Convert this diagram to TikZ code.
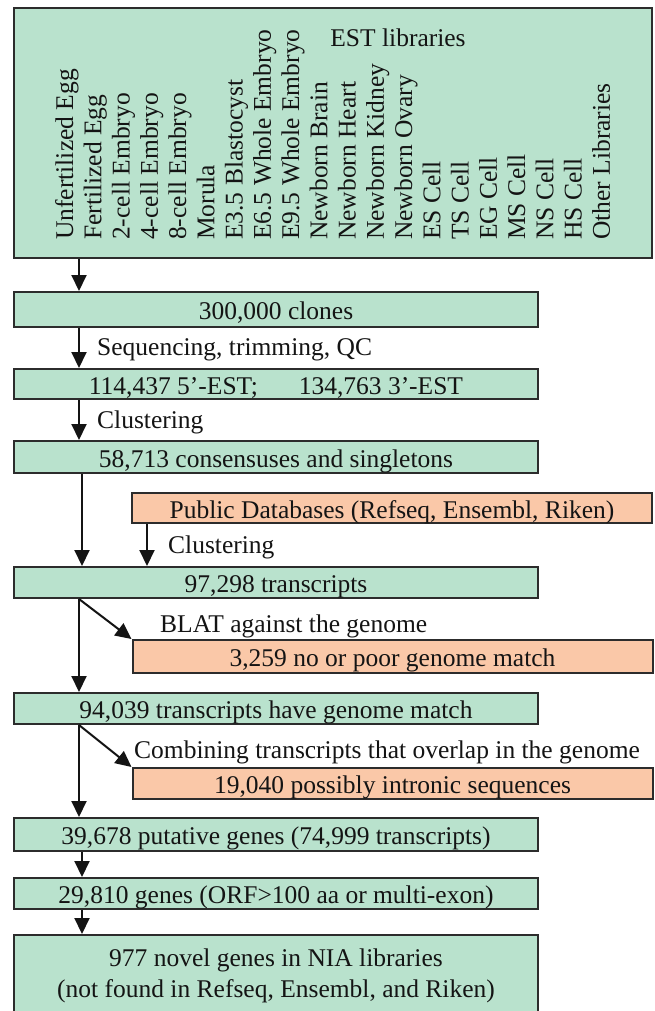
\documentclass[tikz,border=0pt]{standalone}
\usepackage{fontspec}
\setmainfont{Liberation Serif}
\usetikzlibrary{arrows.meta}
\definecolor{boxgreen}{RGB}{185,226,205}
\definecolor{boxorange}{RGB}{250,200,168}
\definecolor{ink}{RGB}{20,20,20}
\begin{document}
\begin{tikzpicture}[x=1pt,y=-1pt,
  every node/.style={font=\fontsize{25.5}{28.26}\selectfont, text=ink},
  gbox/.style={draw=ink!90, line width=2pt, fill=boxgreen, inner sep=0pt, minimum width=524pt, text height=20pt, text depth=0pt},
  obox/.style={gbox, fill=boxorange, minimum width=520pt},
  arr/.style={-{Triangle[width=15pt,length=16pt]}, line width=2pt, draw=ink},
  lbl/.style={anchor=base west, inner sep=0pt},
  rlbl/.style={anchor=base west, inner sep=0pt, rotate=90}]
\useasboundingbox (0,0) rectangle (655,1011);
\clip (0,0) rectangle (655,1011);
\fill[white] (0,0) rectangle (655,1011);

% library box
\node[gbox, minimum width=638pt, minimum height=250pt] (lib) at (333,133) {};
\node[inner sep=0pt, anchor=base] (esttitle) at (398,47) {EST libraries};
\foreach \t [count=\i] in {Unfertilized Egg, Fertilized Egg, 2-cell Embryo, 4-cell Embryo, 8-cell Embryo, Morula, E3.5 Blastocyst, E6.5 Whole Embryo, E9.5 Whole Embryo, Newborn Brain, Newborn Heart, Newborn Kidney, Newborn Ovary, ES Cell, TS Cell, EG Cell, MS Cell, NS Cell, HS Cell, Other Libraries}
  \node[rlbl] (L\i) at ({73+28.26*(\i-1)},240) {\t};

% flow boxes
\node[gbox, minimum height=35pt] (clones) at (276,309.5) {300,000 clones};
\node[gbox, minimum height=30pt] (est) at (276,384) {114,437 5’-EST;\hspace{1.6em}134,763 3’-EST};
\node[gbox, minimum height=32pt] (cons) at (276,457) {58,713 consensuses and singletons};
\node[obox, minimum height=30pt] (pub) at (392,508) {Public Databases (Refseq, Ensembl, Riken)};
\node[gbox, minimum height=31pt] (trans) at (276,582.5) {97,298 transcripts};
\node[obox, minimum height=33pt] (nopoor) at (392.5,656.5) {3,259 no or poor genome match};
\node[gbox, minimum height=31pt] (gm) at (276,708.5) {94,039 transcripts have genome match};
\node[obox, minimum height=31pt] (intr) at (392.5,783.5) {19,040 possibly intronic sequences};
\node[gbox, minimum height=33pt] (put) at (276,834.5) {39,678 putative genes (74,999 transcripts)};
\node[gbox, minimum height=31pt] (genes) at (276,893.5) {29,810 genes (ORF>100 aa or multi-exon)};
\node[gbox, minimum height=82pt, text height={}, text depth={}, align=center, font=\fontsize{25.5}{31}\selectfont] (novel) at (276,976) {977 novel genes in NIA libraries\\(not found in Refseq, Ensembl, and Riken)};

% labels
\node[lbl] (q1) at (97,355) {Sequencing, trimming, QC};
\node[lbl] (q2) at (97,428) {Clustering};
\node[lbl] (q3) at (168,553) {Clustering};
\node[lbl] (q4) at (160,632) {BLAT against the genome};
\node[lbl] (q5) at (134,758) {Combining transcripts that overlap in the genome};

% connectors
\draw[arr] ([xshift=66pt]lib.south west) -- ([xshift=66pt]clones.north west);
\draw[arr] ([xshift=66pt]clones.south west) -- ([xshift=66pt]est.north west);
\draw[arr] ([xshift=66pt]est.south west) -- ([xshift=66pt]cons.north west);
\draw[arr] ([xshift=69pt]cons.south west) -- ([xshift=69pt]trans.north west);
\draw[arr] ([xshift=16pt]pub.south west) -- ([xshift=134pt]trans.north west);
\draw[arr] ([xshift=66pt]trans.south west) -- (nopoor.north west);
\draw[arr] ([xshift=66pt]trans.south west) -- ([xshift=66pt]gm.north west);
\draw[arr] ([xshift=66pt]gm.south west) -- (intr.north west);
\draw[arr] ([xshift=66pt]gm.south west) -- ([xshift=66pt]put.north west);
\draw[arr] ([xshift=69pt]put.south west) -- ([xshift=69pt]genes.north west);
\draw[arr] ([xshift=69pt]genes.south west) -- ([xshift=69pt]novel.north west);
\end{tikzpicture}
\end{document}
